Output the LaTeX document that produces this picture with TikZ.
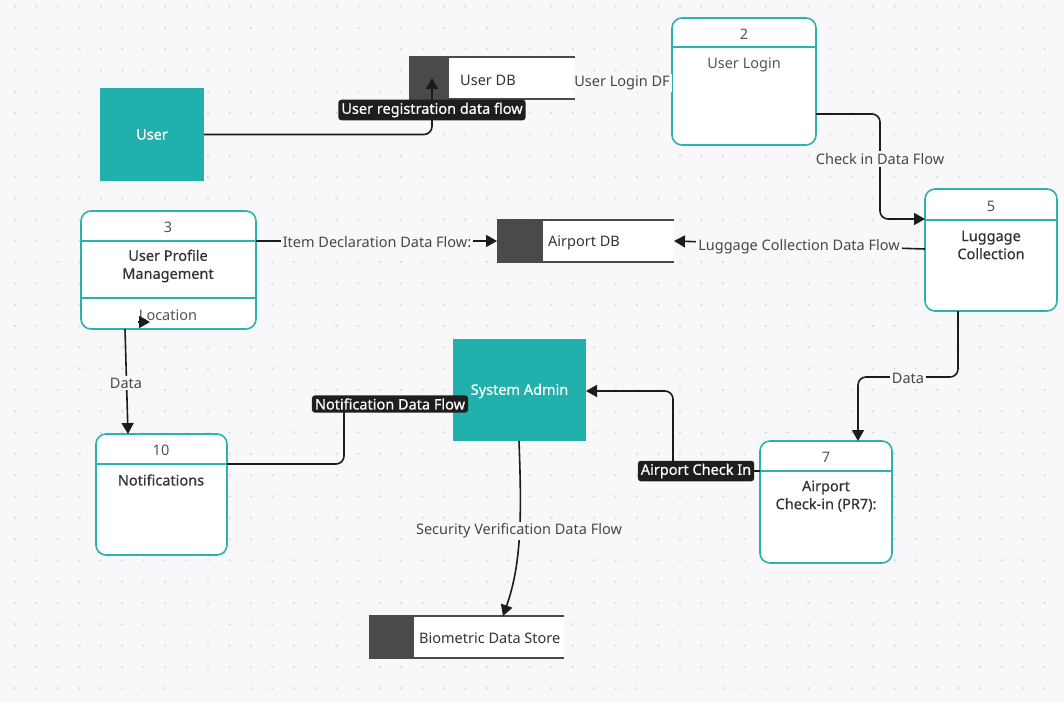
\documentclass[tikz,border=0pt]{standalone}
\usepackage{fontspec}
\setmainfont{Noto Sans}
\newfontfamily\medfont{Noto Sans}[FakeBold=0.5]
\usetikzlibrary{arrows.meta,calc}
\definecolor{bgcol}{HTML}{F8F8FA}
\definecolor{dotcol}{HTML}{DCDCE0}
\definecolor{tealfill}{HTML}{22B0AC}
\definecolor{tealline}{HTML}{2BB2AE}
\definecolor{darkstore}{HTML}{4A4A4A}
\definecolor{edgecol}{HTML}{1C1C1C}
\definecolor{txtgray}{HTML}{555555}
\definecolor{txtdark}{HTML}{333333}
\definecolor{lblbg}{HTML}{1E1E1E}
\tikzset{
  ent/.style={fill=tealfill, inner sep=0, outer sep=0, text=white, font=\fontsize{14.5}{17}\selectfont\medfont},
  proc/.style={draw=tealline, line width=1.6pt, fill=white, rounded corners=10pt, inner sep=0, outer sep=0},
  procline/.style={draw=tealline, line width=1.6pt},
  numtxt/.style={text=txtgray, font=\fontsize{14.5}{17}\selectfont, inner sep=0, yshift=-1.5pt},
  titletxt/.style={text=txtdark, font=\fontsize{14.5}{18}\selectfont\medfont, align=center, inner sep=0, yshift=-1pt},
  subtxt/.style={text=txtgray, font=\fontsize{14.5}{17}\selectfont, inner sep=0, yshift=-1.5pt},
  storebox/.style={fill=white, inner sep=0, outer sep=0},
  storeline/.style={draw=darkstore, line width=1.2pt},
  storetxt/.style={text=txtdark, font=\fontsize{14.5}{17}\selectfont, anchor=west, inner sep=0, yshift=-1pt},
  flow/.style={draw=edgecol, line width=1.6pt, rounded corners=8pt},
  arr/.style={-{Triangle[length=11pt,width=12pt]}},
  flowlbl/.style={fill=bgcol, text=txtdark!90, font=\fontsize{14.5}{17}\selectfont, inner sep=2pt, yshift=-1pt},
  darklbl/.style={fill=lblbg, text=white, rounded corners=3pt, font=\fontsize{14.5}{17}\selectfont\medfont, inner xsep=3pt, inner ysep=3pt},
}
\begin{document}
\begin{tikzpicture}[x=1pt,y=-1pt]
\fill[bgcol] (0,0) rectangle (1064,702);
\useasboundingbox (0,0) rectangle (1064,702);
\foreach \x in {15,36.45,...,1064} {
  \foreach \y in {6.5,27.8,...,702} {
    \fill[dotcol] (\x,\y) circle (1.3);
  }
}

% External entities
\node[ent, minimum width=104, minimum height=93] (user) at (152,134.5) {User};
\node[ent, minimum width=133, minimum height=102] (admin) at (519.5,390) {};
\node[text=white, font=\fontsize{14.5}{17}\selectfont\medfont, inner sep=0] (admintxt) at (519.5,391) {System Admin};

% Data stores
\node[storebox, minimum width=166, minimum height=42, anchor=north west] (userdb) at (409,57) {};
\fill[darkstore] (userdb.north west) rectangle ($(userdb.south west)+(40,0)$);
\draw[storeline] (userdb.north west) -- (userdb.north east);
\draw[storeline] (userdb.south west) -- (userdb.south east);
\node[storetxt] (userdbtxt) at (460,79) {User DB};

\node[storebox, minimum width=177, minimum height=42, anchor=north west] (airdb) at (497,220) {};
\fill[darkstore] (airdb.north west) rectangle ($(airdb.south west)+(46,0)$);
\draw[storeline] (airdb.north west) -- (airdb.north east);
\draw[storeline] (airdb.south west) -- (airdb.south east);
\node[storetxt] (airdbtxt) at (548,242) {Airport DB};

\node[storebox, minimum width=195, minimum height=42, anchor=north west] (bio) at (369,616) {};
\fill[darkstore] (bio.north west) rectangle ($(bio.south west)+(45,0)$);
\draw[storeline] (bio.north west) -- (bio.north east);
\draw[storeline] (bio.south west) -- (bio.south east);
\node[storetxt] (biotxt) at (419,637) {Biometric Data Store};

% Processes
\node[proc, minimum width=144, minimum height=127, anchor=north west] (login) at (672,18) {};
\draw[procline] (login.west |- 0,47) -- (login.east |- 0,47);
\node[numtxt] (loginnum) at (744,33) {2};
\node[subtxt] (logintxt) at (744,63) {User Login};

\node[proc, minimum width=132, minimum height=122, anchor=north west] (lug) at (925,189) {};
\draw[procline] (lug.west |- 0,220) -- (lug.east |- 0,220);
\node[numtxt] (lugnum) at (991,205) {5};
\node[titletxt] (lugtxt) at (991,244) {Luggage\\Collection};

\node[proc, minimum width=175, minimum height=118, anchor=north west] (upm) at (81,211) {};
\draw[procline] (upm.west |- 0,241) -- (upm.east |- 0,241);
\draw[procline] (upm.west |- 0,298) -- (upm.east |- 0,298);
\node[numtxt] (upmnum) at (168,226) {3};
\node[titletxt] (upmtxt) at (168,265) {User Profile\\Management};
\node[subtxt] (upmloc) at (168,314) {Location};

\node[proc, minimum width=131, minimum height=121, anchor=north west] (notif) at (96,434) {};
\draw[procline] (notif.west |- 0,464) -- (notif.east |- 0,464);
\node[numtxt] (notifnum) at (161,449) {10};
\node[titletxt] (notiftxt) at (161,479) {Notifications};

\node[proc, minimum width=132, minimum height=122, anchor=north west] (ac) at (760,441) {};
\draw[procline] (ac.west |- 0,471) -- (ac.east |- 0,471);
\node[numtxt] (acnum) at (826,456) {7};
\node[titletxt] (actxt) at (826,495) {Airport\\Check-in (PR7):};

% Connectors
\coordinate (udbin) at (432,78);
\draw[flow, arr] (user.east) -| (udbin);
\node[darklbl] (lblreg) at (432,110) {User registration data flow};

\draw[flow] (userdb.east) -- (login.west |- userdb.east);
\node[flowlbl] (lbllogin) at (622,82) {User Login DF};

\draw[flow, arr] (login.east |- 0,114) -- (880,114) -- (880,219) -- (lug.west |- 0,219);
\node[flowlbl] (lblcheck) at (880,158) {Check in Data Flow};

\draw[flow, arr] (lug.west |- 0,249) -- (airdb.east |- 0,241);
\node[flowlbl] (lbllug) at (799,246) {Luggage Collection Data Flow};

\draw[flow, arr] (upm.east |- 0,241) -- (airdb.west);
\node[flowlbl] (lblitem) at (377,241) {Item Declaration Data Flow:};

\draw[flow, arr] (upm.south -| 125,0) -- (notif.north -| 128,0);
\node[flowlbl] (lbldata1) at (126,382) {Data};
\coordinate (locarrow) at (150,322);
\draw[draw=edgecol, line width=1.6pt, arr] ($(locarrow)+(-12,0)$) -- (locarrow);

\draw[flow] (notif.east |- 0,464) -- (344,464) -- (344,404) -- (admin.west |- 0,404);
\node[darklbl] (lblnotif) at (390,404) {Notification Data Flow};

\draw[flow, arr] (ac.west |- 0,471) -- (673,471) -- (673,391) -- (admin.east |- 0,391);
\node[darklbl] (lblac) at (696,471) {Airport Check In};

\draw[flow, arr] (lug.south -| 958,0) -- (958,377) -- (858,377) -- (ac.north -| 858,0);
\node[flowlbl] (lbldata2) at (908,377) {Data};

\draw[flow, arr] (admin.south -| 519,0) .. controls (522,520) and (521,565) .. (bio.north -| 503,0);
\node[flowlbl] (lblsec) at (519,530) {Security Verification Data Flow};
\end{tikzpicture}
\end{document}
